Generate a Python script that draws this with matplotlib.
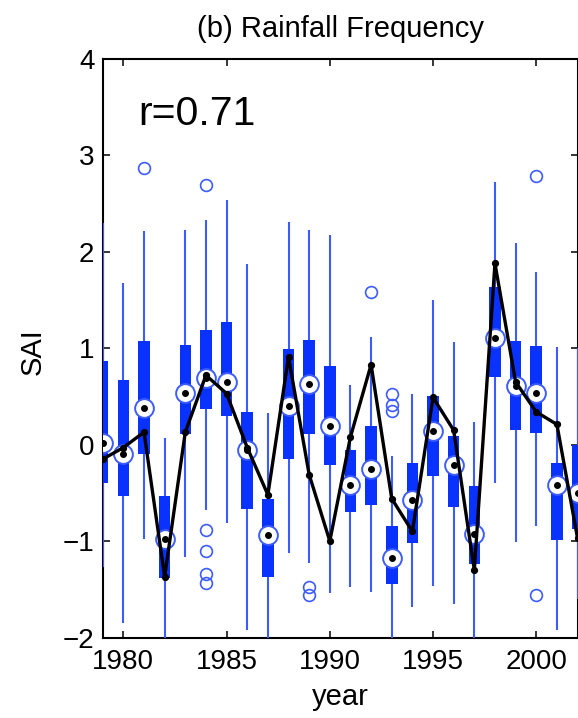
import matplotlib
matplotlib.use("Agg")
import matplotlib.pyplot as plt
import numpy as np

plt.rcParams['font.family'] = ['Liberation Sans', 'DejaVu Sans']

years = list(range(1979, 2003))
q1 =      [-0.40, -0.53, -0.10, -1.38,  0.11,  0.37,  0.30, -0.67, -1.37, -0.15,  0.11, -0.21,
           -0.70, -0.63, -1.45, -1.02, -0.33, -0.65, -1.24,  0.70,  0.15,  0.12, -0.99, -0.87]
q3 =      [ 0.87,  0.67,  1.08, -0.53,  1.03,  1.19,  1.27,  0.34, -0.56,  0.99,  1.09,  0.82,
           -0.05,  0.19, -0.84, -0.19,  0.51,  0.09, -0.43,  1.64,  1.08,  1.02, -0.19,  0.00]
medians = [ 0.02, -0.10,  0.38, -0.98,  0.54,  0.69,  0.65, -0.06, -0.94,  0.40,  0.63,  0.19,
           -0.42, -0.25, -1.18, -0.57,  0.14, -0.21, -0.93,  1.11,  0.61,  0.54, -0.42, -0.50]
whisk_lo = [-1.27, -1.85, -0.98, -2.10, -1.16, -0.68, -0.81, -1.92, -2.10, -1.12, -1.23, -1.54,
            -1.48, -1.53, -2.10, -1.68, -1.47, -1.65, -2.10, -0.40, -1.01, -0.84, -1.92, -1.60]
whisk_hi = [ 2.30,  1.68,  2.22,  0.07,  2.23,  2.33,  2.54,  1.87,  0.33,  2.31,  2.23,  2.17,
             0.62,  1.12, -0.12,  0.53,  1.50,  1.06,  0.24,  2.72,  2.09,  1.79,  1.01,  1.00]
outliers = {1981: [2.87],
            1984: [2.69, -0.89, -1.10, -1.34, -1.43],
            1989: [-1.48, -1.56],
            1992: [1.58],
            1993: [0.53, 0.41, 0.35],
            2000: [2.79, -1.56]}
line_vals = [-0.15, -0.03, 0.13, -1.37, 0.13, 0.72, 0.53, -0.03, -0.52, 0.91, -0.31, -1.00,
             0.08, 0.83, -0.56, -0.90, 0.49, 0.15, -1.30, 1.88, 0.65, 0.34, 0.21, -0.97]

BOX_C = '#0a32ff'
WHISK_C = '#3d5cff'

fig = plt.figure(figsize=(5.78, 7.18), dpi=100)
ax = fig.add_axes([0.1777, 0.1121, 0.8215, 0.8057])

yrs = np.array(years)
# whiskers
ax.vlines(yrs, whisk_lo, whisk_hi, colors=WHISK_C, linewidth=1.5, zorder=3)
# boxes
ax.bar(yrs, np.array(q3) - np.array(q1), bottom=q1, width=0.56, color=BOX_C,
       edgecolor='none', zorder=4)
# outliers
ox = [y for y, vals in outliers.items() for _ in vals]
oy = [v for y, vals in outliers.items() for v in vals]
ax.plot(ox, oy, linestyle='none', marker='o', markersize=8.5, markerfacecolor='none',
        markeredgecolor=WHISK_C, markeredgewidth=1.2, zorder=4)
# medians
ax.plot(yrs, medians, linestyle='none', marker='o', markersize=13.5, markerfacecolor='white',
        markeredgecolor=WHISK_C, markeredgewidth=1.4, zorder=5)
ax.plot(yrs, medians, linestyle='none', marker='o', markersize=4.0, color='black', zorder=6)
# black line
ax.plot(yrs, line_vals, color='black', linewidth=2.4, marker='o', markersize=4.2, zorder=7)

ax.set_xlim(1979, 2002)
ax.set_ylim(-2, 4)
ax.set_xticks([1980, 1985, 1990, 1995, 2000])
ax.set_yticks([-2, -1, 0, 1, 2, 3, 4])
ax.tick_params(direction='in', length=5, width=1.1, top=True, right=True,
               labelsize=20, colors='black')
ax.tick_params(axis='x', pad=8)
ax.tick_params(axis='y', pad=6)
for s in ax.spines.values():
    s.set_linewidth(1.5)

ax.text(0.075, 0.905, 'r=0.71', transform=ax.transAxes, fontsize=29.5, ha='left', va='center')
ax.set_title('(b) Rainfall Frequency', fontsize=21, pad=16)
fig.text(33 / 578, 1 - 352 / 718, 'SAI', rotation=90, ha='center', va='center', fontsize=21)
fig.text(340 / 578, 1 - 697 / 718, 'year', ha='center', va='center', fontsize=21)

fig.savefig('out.png', dpi=100)
